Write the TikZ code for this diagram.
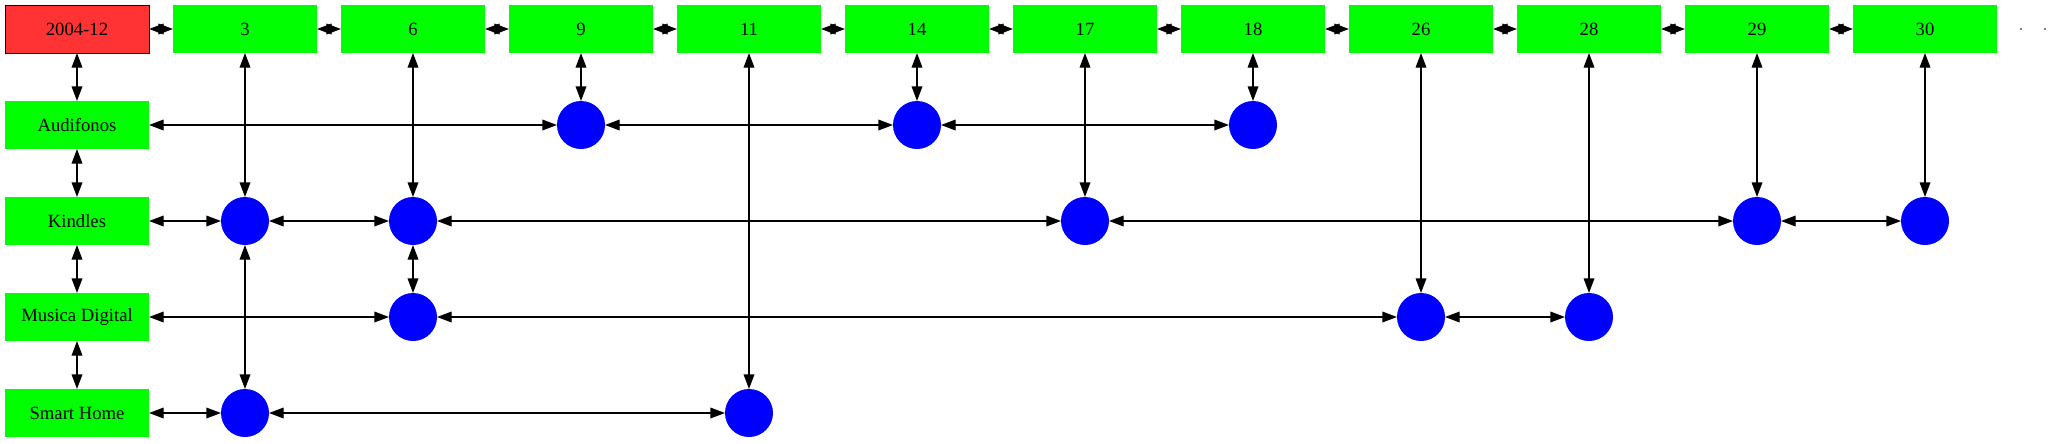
\documentclass[tikz,border=0pt]{standalone}
\usepackage{fontspec}
\setmainfont{Liberation Serif}
\usepackage{xcolor}
\usetikzlibrary{arrows.meta,positioning}

\definecolor{datered}{HTML}{FF3333}

\begin{document}
\begin{tikzpicture}[
    x=0.75pt, y=-0.75pt,
    cat/.style={rectangle, fill=green, minimum width=108pt, minimum height=36pt, inner sep=0pt, outer sep=0pt},
    datebox/.style={cat, fill=datered, draw=black, line width=0.75pt},
    ball/.style={circle, fill=blue, minimum size=36pt, inner sep=0pt, outer sep=0pt},
    tiny/.style={circle, fill=black, minimum size=1.2pt, inner sep=0pt},
    link/.style={<->, >={Triangle[length=11pt, width=8pt]}, line width=1pt},
    font=\fontsize{14pt}{16pt}\selectfont
]
\useasboundingbox (0,0) rectangle (2051,443);

% Header row
\node[datebox] (h0) at (77, 29) {2004-12};
\node[cat] (h3) at (245, 29) {3};
\node[cat] (h6) at (413, 29) {6};
\node[cat] (h9) at (581, 29) {9};
\node[cat] (h11) at (749, 29) {11};
\node[cat] (h14) at (917, 29) {14};
\node[cat] (h17) at (1085, 29) {17};
\node[cat] (h18) at (1253, 29) {18};
\node[cat] (h26) at (1421, 29) {26};
\node[cat] (h28) at (1589, 29) {28};
\node[cat] (h29) at (1757, 29) {29};
\node[cat] (h30) at (1925, 29) {30};
\node[tiny] (more1) at (2021, 29) {};
\node[tiny] (more2) at (2045, 29) {};

% Category column
\node[cat] (aud) at (77, 125) {Audifonos};
\node[cat] (kin) at (77, 221) {Kindles};
\node[cat] (mus) at (77, 317) {Musica Digital};
\node[cat] (sma) at (77, 413) {Smart Home};

% Audifonos
\node[ball] (aud9) at (581, 125) {};
\node[ball] (aud14) at (917, 125) {};
\node[ball] (aud18) at (1253, 125) {};

% Kindles
\node[ball] (kin3) at (245, 221) {};
\node[ball] (kin6) at (413, 221) {};
\node[ball] (kin17) at (1085, 221) {};
\node[ball] (kin29) at (1757, 221) {};
\node[ball] (kin30) at (1925, 221) {};

% Musica Digital
\node[ball] (mus6) at (413, 317) {};
\node[ball] (mus26) at (1421, 317) {};
\node[ball] (mus28) at (1589, 317) {};

% Smart Home
\node[ball] (sma3) at (245, 413) {};
\node[ball] (sma11) at (749, 413) {};

% Header chain
\draw[link] (h0) -- (h3);
\draw[link] (h3) -- (h6);
\draw[link] (h6) -- (h9);
\draw[link] (h9) -- (h11);
\draw[link] (h11) -- (h14);
\draw[link] (h14) -- (h17);
\draw[link] (h17) -- (h18);
\draw[link] (h18) -- (h26);
\draw[link] (h26) -- (h28);
\draw[link] (h28) -- (h29);
\draw[link] (h29) -- (h30);

% Category chain
\draw[link] (h0) -- (aud);
\draw[link] (aud) -- (kin);
\draw[link] (kin) -- (mus);
\draw[link] (mus) -- (sma);

% Rows
\draw[link] (aud) -- (aud9);
\draw[link] (aud9) -- (aud14);
\draw[link] (aud14) -- (aud18);
\draw[link] (kin) -- (kin3);
\draw[link] (kin3) -- (kin6);
\draw[link] (kin6) -- (kin17);
\draw[link] (kin17) -- (kin29);
\draw[link] (kin29) -- (kin30);
\draw[link] (mus) -- (mus6);
\draw[link] (mus6) -- (mus26);
\draw[link] (mus26) -- (mus28);
\draw[link] (sma) -- (sma3);
\draw[link] (sma3) -- (sma11);

% Columns
\draw[link] (h3) -- (kin3);
\draw[link] (kin3) -- (sma3);
\draw[link] (h6) -- (kin6);
\draw[link] (kin6) -- (mus6);
\draw[link] (h9) -- (aud9);
\draw[link] (h11) -- (sma11);
\draw[link] (h14) -- (aud14);
\draw[link] (h17) -- (kin17);
\draw[link] (h18) -- (aud18);
\draw[link] (h26) -- (mus26);
\draw[link] (h28) -- (mus28);
\draw[link] (h29) -- (kin29);
\draw[link] (h30) -- (kin30);

\end{tikzpicture}
\end{document}
